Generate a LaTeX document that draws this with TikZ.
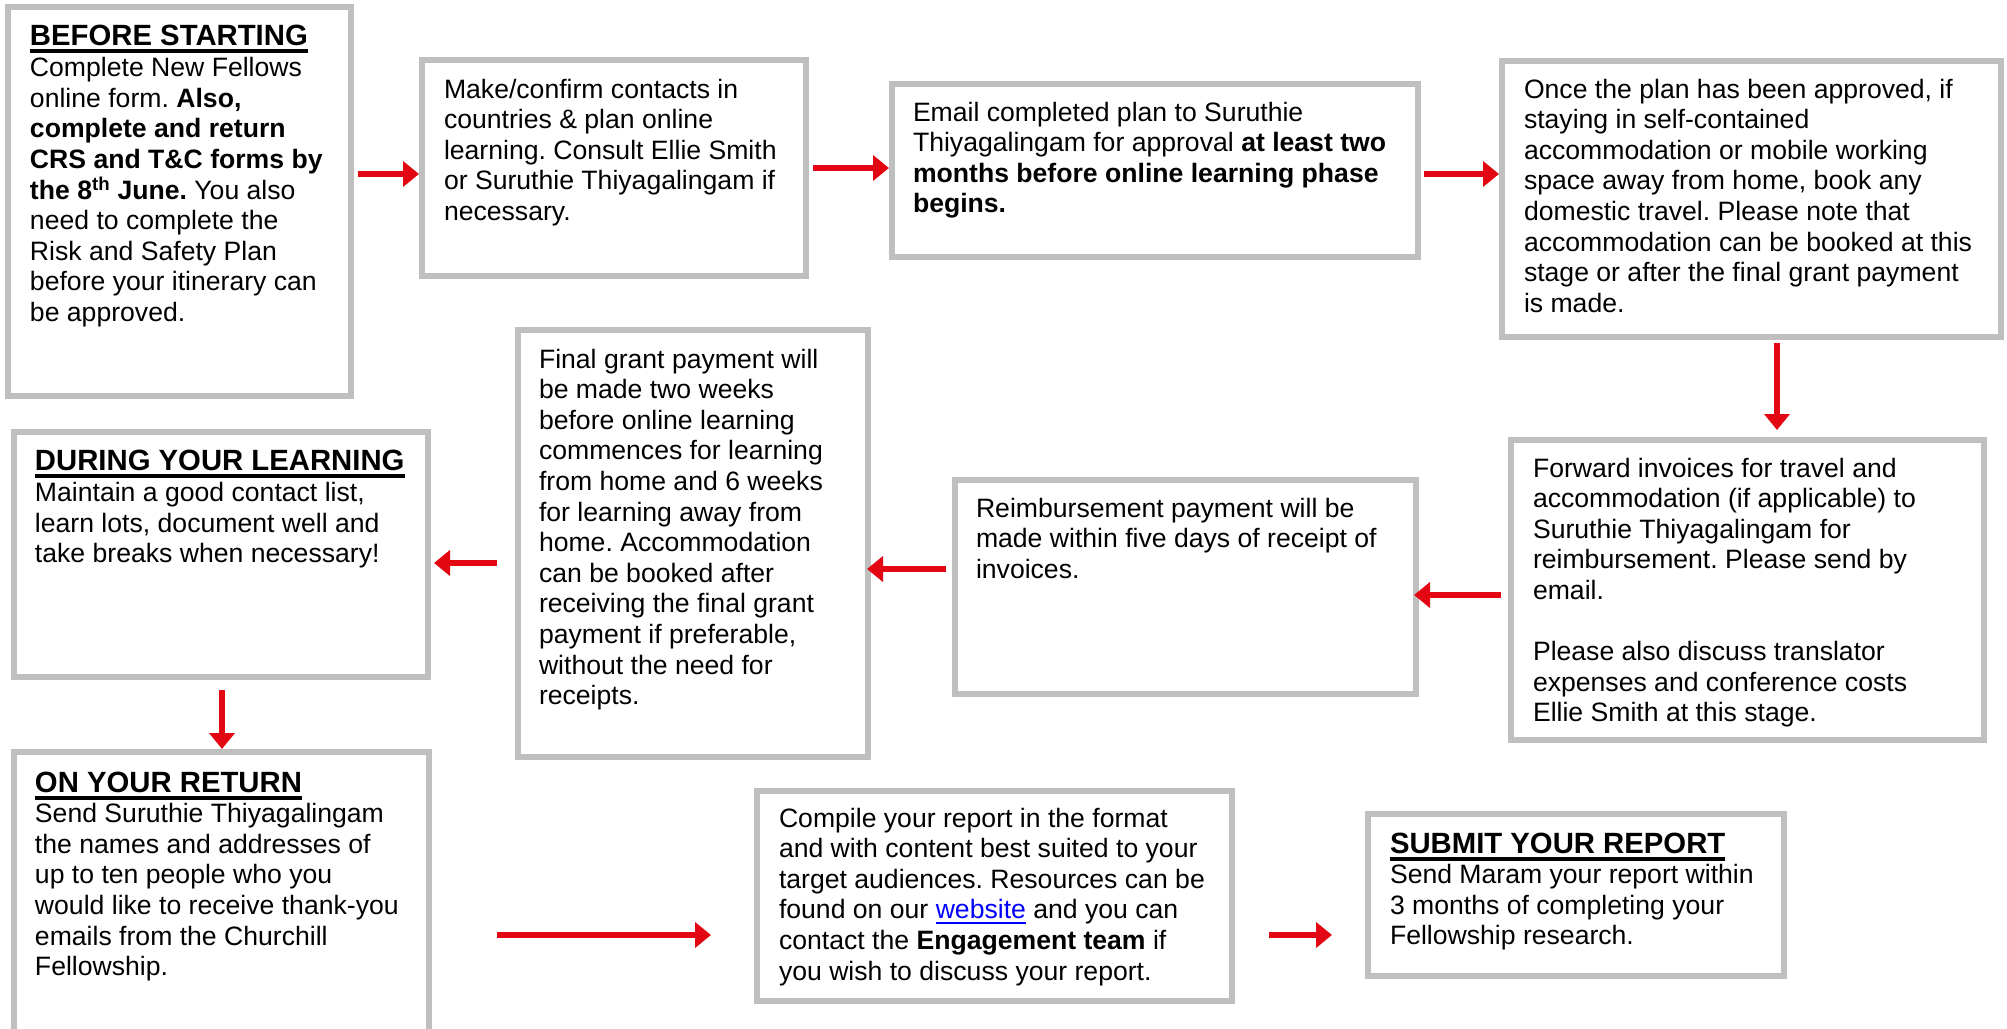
\documentclass[tikz,border=0pt]{standalone}
\usepackage{fontspec}
\setmainfont{Liberation Sans}
\usetikzlibrary{arrows.meta}
\definecolor{boxgray}{RGB}{191,191,191}
\definecolor{arrred}{RGB}{227,6,19}
\definecolor{linkblue}{RGB}{0,0,255}
\frenchspacing
\newcommand\bodyfont{\fontsize{26.6bp}{30.6bp}\selectfont\frenchspacing}
\newcommand\ttl[1]{{\fontsize{29.3bp}{30.6bp}\selectfont\bfseries\setbox0\hbox{#1}\rlap{\rule[-7.5bp]{\wd0}{3.5bp}}\box0}}
\newcommand\lnk[1]{{\color{linkblue}\setbox0\hbox{#1}\rlap{\rule[-5bp]{\wd0}{2bp}}\box0}}
\newcommand\tstrut{\rule{0pt}{25bp}}
\begin{document}
\begin{tikzpicture}[x=1bp,y=-1bp,
  box/.style={draw=boxgray,line width=6bp,fill=white,inner sep=0pt,outer sep=3bp,rectangle},
  txt/.style={anchor=north west,inner sep=0pt,outer sep=0pt,align=left,font=\bodyfont},
  arr/.style={draw=arrred,line width=5.5bp,-{Triangle[length=16bp,width=25bp]}}]
\useasboundingbox (0,0) rectangle (2007,1028);
\fill[white] (0,0) rectangle (2007,1028);
\clip (0,0) rectangle (2007,1028);

% boxes
\node[box,minimum width=343bp,minimum height=389bp] (b1) at (179.5,201.5) {};
\node[box,minimum width=384bp,minimum height=216bp] (b2) at (614,168) {};
\node[box,minimum width=526bp,minimum height=173bp] (b3) at (1155,170.5) {};
\node[box,minimum width=499bp,minimum height=276bp] (b4) at (1751.5,199) {};
\node[box,minimum width=473bp,minimum height=300bp] (b5) at (1747.5,590) {};
\node[box,minimum width=461bp,minimum height=214bp] (b6) at (1185.5,587) {};
\node[box,minimum width=350bp,minimum height=427bp] (b7) at (693,543.5) {};
\node[box,minimum width=414bp,minimum height=245bp] (b8) at (221,554.5) {};
\node[box,minimum width=415bp,minimum height=285bp] (b9) at (221.5,894.5) {};
\node[box,minimum width=475bp,minimum height=210bp] (b10) at (994.5,896) {};
\node[box,minimum width=416bp,minimum height=162bp] (b11) at (1576,895) {};

% texts
\node[txt] (t1) at ([shift={(25,16)}]b1.north west) {\tstrut\ttl{BEFORE STARTING}\\[1bp]
Complete New Fellows\\
online form. \textbf{Also,}\\
\textbf{complete and return}\\
\textbf{CRS and T\&C forms by}\\
\textbf{the 8\textsuperscript{th} June.} You also\\
need to complete the\\
Risk and Safety Plan\\
before your itinerary can\\
be approved.};

\node[txt] (t2) at ([shift={(25,16)}]b2.north west) {\tstrut Make/confirm contacts in\\
countries \& plan online\\
learning. Consult Ellie Smith\\
or Suruthie Thiyagalingam if\\
necessary.};

\node[txt] (t3) at ([shift={(24,15)}]b3.north west) {\tstrut Email completed plan to Suruthie\\
Thiyagalingam for approval \textbf{at least two}\\
\textbf{months before online learning phase}\\
\textbf{begins.}};

\node[txt] (t4) at ([shift={(25,15)}]b4.north west) {\tstrut Once the plan has been approved, if\\
staying in self-contained\\
accommodation or mobile working\\
space away from home, book any\\
domestic travel. Please note that\\
accommodation can be booked at this\\
stage or after the final grant payment\\
is made.};

\node[txt] (t5) at ([shift={(25,15)}]b5.north west) {\tstrut Forward invoices for travel and\\
accommodation (if applicable) to\\
Suruthie Thiyagalingam for\\
reimbursement. Please send by\\
email.\\[30.6bp]
Please also discuss translator\\
expenses and conference costs\\
Ellie Smith at this stage.};

\node[txt] (t6) at ([shift={(24,15)}]b6.north west) {\tstrut Reimbursement payment will be\\
made within five days of receipt of\\
invoices.};

\node[txt] (t7) at ([shift={(24,16)}]b7.north west) {\tstrut Final grant payment will\\
be made two weeks\\
before online learning\\
commences for learning\\
from home and 6 weeks\\
for learning away from\\
home. Accommodation\\
can be booked after\\
receiving the final grant\\
payment if preferable,\\
without the need for\\
receipts.};

\node[txt] (t8) at ([shift={(24,16)}]b8.north west) {\tstrut\ttl{DURING YOUR LEARNING}\\[1bp]
Maintain a good contact list,\\
learn lots, document well and\\
take breaks when necessary!};

\node[txt] (t9) at ([shift={(24,18)}]b9.north west) {\tstrut\ttl{ON YOUR RETURN}\\
Send Suruthie Thiyagalingam\\
the names and addresses of\\
up to ten people who you\\
would like to receive thank-you\\
emails from the Churchill\\
Fellowship.};

\node[txt] (t10) at ([shift={(25,14)}]b10.north west) {\tstrut Compile your report in the format\\
and with content best suited to your\\
target audiences. Resources can be\\
found on our \lnk{website} and you can\\
contact the \textbf{Engagement team} if\\
you wish to discuss your report.};

\node[txt] (t11) at ([shift={(25,17)}]b11.north west) {\tstrut\ttl{SUBMIT YOUR REPORT}\\
Send Maram your report within\\
3 months of completing your\\
Fellowship research.};

% arrow levels
\coordinate (y1) at (0,174);
\coordinate (y2) at (0,168);
\coordinate (y3) at (0,174);
\coordinate (x4) at (1777,0);
\coordinate (y5) at (0,595);
\coordinate (y6) at (0,569);
\coordinate (y7) at (0,563);
\coordinate (x8) at (222,0);
\coordinate (y9) at (0,935);

\draw[arr] ([xshift=4bp]b1.east |- y1) -- (b2.west |- y1);
\draw[arr] ([xshift=4bp]b2.east |- y2) -- (b3.west |- y2);
\draw[arr] ([xshift=3bp]b3.east |- y3) -- (b4.west |- y3);
\draw[arr] ([yshift=-3bp]b4.south -| x4) -- ([yshift=7bp]b5.north -| x4);
\draw[arr] ([xshift=-7bp]b5.west |- y5) -- ([xshift=-5bp]b6.east |- y5);
\draw[arr] ([xshift=-6bp]b6.west |- y6) -- ([xshift=-4bp]b7.east |- y6);
\draw[arr] ([xshift=-18bp]b7.west |- y7) -- ([xshift=3bp]b8.east |- y7);
\draw[arr] ([yshift=-10bp]b8.south -| x8) -- (b9.north -| x8);
\draw[arr] ([xshift=65bp]b9.east |- y9) -- ([xshift=-43bp]b10.west |- y9);
\draw[arr] ([xshift=34bp]b10.east |- y9) -- ([xshift=-33bp]b11.west |- y9);
\end{tikzpicture}
\end{document}
